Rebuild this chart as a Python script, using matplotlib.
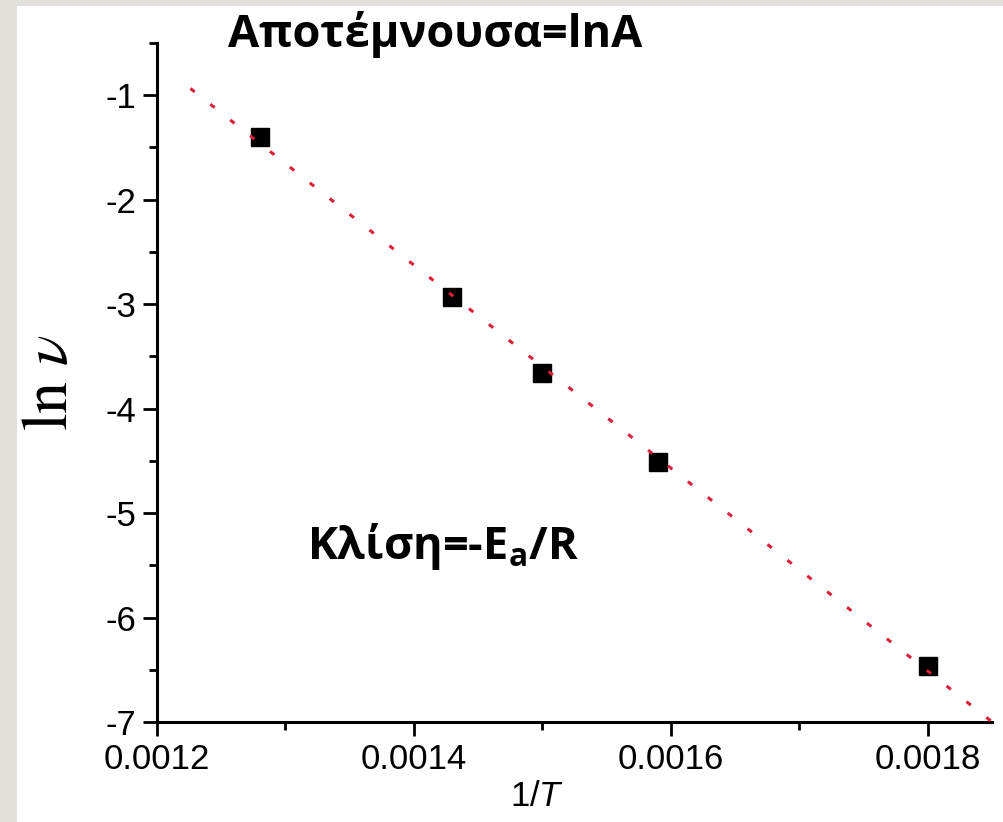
"""
Arrhenius plot: ln v against 1/T
"""

import numpy as np
import matplotlib
matplotlib.use("Agg")
import matplotlib.pyplot as plt
from matplotlib.patches import Rectangle
from matplotlib.ticker import MultipleLocator, FormatStrFormatter

# data
inv_T = [0.00128, 0.00143, 0.00150, 0.00159, 0.00180]
ln_v = [-1.40, -2.93, -3.66, -4.51, -6.46]
fit_range = [0.001226, 0.00185]

x_ticks = [0.0012, 0.0014, 0.0016, 0.0018]
y_ticks = [-1, -2, -3, -4, -5, -6, -7]

intercept_text = "Αποτέμνουσα=lnA"
slope_text = "Κλίση=-E$_\\mathrm{a}$/R"

plt.rcParams["font.family"] = ["Liberation Sans", "DejaVu Sans"]
plt.rcParams["axes.unicode_minus"] = False
plt.rcParams["mathtext.fontset"] = "custom"
plt.rcParams["mathtext.rm"] = "Open Sans:bold"
plt.rcParams["mathtext.it"] = "Liberation Sans:italic"

W, H = 1004, 822
fig = plt.figure(figsize=(W / 100, H / 100), dpi=100, facecolor="#e2e0db")
# white slide card
fig.patches.append(
    Rectangle((17 / W, 0), 1, (H - 6) / H, transform=fig.transFigure,
              facecolor="white", edgecolor="none", zorder=-5)
)

ax = fig.add_axes([157 / W, (H - 722) / H, (992 - 157) / W, (722 - 43) / H])
ax.set_facecolor("none")
ax.set_zorder(2)

# fitted straight line
k, b = np.polyfit(inv_T, ln_v, 1)
xf = np.array(fit_range)
ax.plot(xf, k * xf + b, color="#d9203a", lw=2.2, ls=(0, (1.8, 6.5)), zorder=4,
        clip_on=False)
ax.plot(inv_T, ln_v, ls="none", marker="s", ms=12.5, color="black", zorder=3)

ax.set_xlim(0.0012, 0.00185)
ax.set_ylim(-7, -0.5)
ax.set_xticks(x_ticks)
ax.set_yticks(y_ticks)
ax.xaxis.set_major_formatter(FormatStrFormatter("%.4f"))
ax.xaxis.set_minor_locator(MultipleLocator(0.0001))
ax.yaxis.set_minor_locator(MultipleLocator(0.5))

for side in ["top", "right"]:
    ax.spines[side].set_visible(False)
for side in ["left", "bottom"]:
    ax.spines[side].set_linewidth(2.2)
ax.tick_params(which="major", length=10, width=2, labelsize=25, pad=5)
ax.tick_params(which="minor", length=6, width=2)

ax.set_xlabel("1/$\\mathit{T}$", fontsize=25)
ax.xaxis.set_label_coords(0.455, -0.085)
ax.set_ylabel(r"$\mathrm{ln}\ \nu$", fontsize=46, math_fontfamily="stix")
ax.yaxis.set_label_coords(-0.092, 0.5)

fig.text(228 / W, (H - 47) / H, intercept_text, fontsize=32.5, fontweight="bold",
         family=["Open Sans", "DejaVu Sans"], ha="left", va="baseline")
fig.text(307 / W, (H - 559) / H, slope_text, fontsize=32.5, fontweight="bold",
         family=["Open Sans", "DejaVu Sans"], ha="left", va="baseline")

plt.savefig("out.png", dpi=100, facecolor=fig.get_facecolor())
plt.close()
